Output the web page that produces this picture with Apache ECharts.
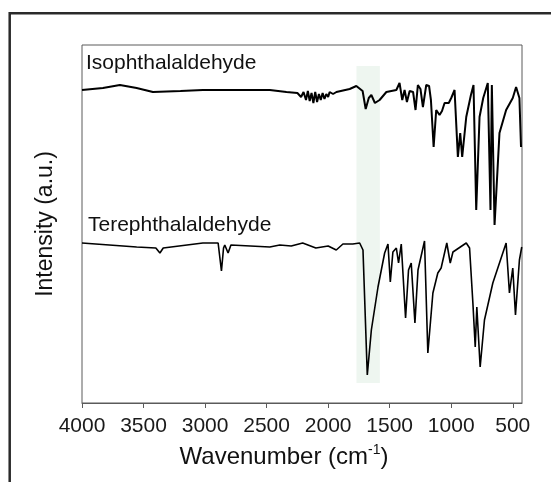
<!DOCTYPE html>
<html>
<head>
<meta charset="utf-8">
<script src="https://cdn.jsdelivr.net/npm/echarts@6.0.0/dist/echarts.min.js"></script>
<style>
html,body{margin:0;padding:0;background:#fff;}
#chart{width:551px;height:482px;}
</style>
</head>
<body>
<div id="chart"></div>
<script>
// Tick labels of the wavenumber axis
var xTicks = [4000, 3500, 3000, 2500, 2000, 1500, 1000, 500];

// Isophthalaldehyde spectrum (wavenumber, intensity a.u.)
var isoWn  = [4000,3830,3692,3556,3424,3200,3018,2700,2474,2339,2250,2220,2200,2180,2165,2150,2135,2120,2105,2090,2075,2060,2045,2030,2015,2000,1988,1960,1933,1825,1771,1720,1695,1670,1649,1620,1582,1527,1446,1420,1398,1379,1360,1338,1310,1290,1271,1250,1230,1203,1180,1165,1143,1122,1095,1075,1054,1020,1000,973,946,927,911,878,840,819,797,770,740,703,681,670,648,608,554,500,473,446,433];
var isoVal = [313, 315, 318, 315, 311, 312, 313, 313, 313, 311, 310, 306, 311, 303, 312, 302, 310, 300, 311, 301, 309, 303, 310, 304, 309, 306, 311, 309, 311, 314, 317, 312, 294, 305, 308, 300, 303, 311, 313, 320, 303, 313, 301, 312, 311, 293, 318, 314, 296, 318, 317, 303, 256, 293, 288, 292, 300, 300, 305, 313, 246, 270, 246, 286, 308, 318, 193, 286, 305, 320, 193, 318, 178, 270, 293, 305, 316, 305, 256];

// Terephthalaldehyde spectrum (wavenumber, intensity a.u.)
var tereWn  = [4000,3556,3400,3367,3340,3018,2894,2867,2850,2840,2813,2790,2474,2393,2300,2207,2100,2000,1988,1934,1880,1800,1744,1717,1682,1649,1595,1541,1514,1495,1474,1446,1428,1406,1371,1347,1325,1295,1270,1217,1190,1149,1109,1082,1036,1008,986,878,851,824,805,792,765,730,662,554,527,500,478,446,427];
var tereVal = [160, 156, 155, 150, 155, 160, 160, 132, 155, 158, 150, 158, 156, 158, 157, 160, 155, 157, 156, 153, 159, 159, 160, 153, 28, 73, 116, 150, 159, 121, 151, 155, 140, 159, 85, 133, 140, 80, 133, 162, 50, 110, 130, 135, 160, 140, 151, 160, 155, 100, 56, 96, 36, 83, 120, 160, 110, 135, 88, 143, 156];

// Highlighted carbonyl region (wavenumber range)
var bandWn = [1770, 1580];
var bandVal = [20, 337];

function pairs(xs, ys) { return xs.map(function (x, i) { return [x, ys[i]]; }); }

var chart = echarts.init(document.getElementById('chart'), null, {renderer: 'canvas'});
var FONT = 'Liberation Sans, Arial, sans-serif';

chart.setOption({
  animation: false,
  backgroundColor: '#ffffff',
  grid: {left: 82, right: 29, top: 45, bottom: 79, show: true, borderColor: '#5a5a5a', borderWidth: 1, backgroundColor: 'transparent'},
  xAxis: {
    type: 'value', inverse: true, min: 425, max: 4000,
    axisLine: {show: true, lineStyle: {color: '#5a5a5a', width: 1}},
    axisTick: {show: true, inside: false, length: 5, lineStyle: {color: '#5a5a5a'}, customValues: xTicks},
    axisLabel: {show: true, margin: 13, fontSize: 21, color: '#1a1a1a', fontFamily: FONT, customValues: xTicks,
      formatter: function (v) { return String(v); }},
    splitLine: {show: false}
  },
  yAxis: {
    type: 'value', min: 0, max: 358,
    axisLine: {show: false}, axisTick: {show: false}, axisLabel: {show: false}, splitLine: {show: false}
  },
  graphic: [
    {type: 'rect', shape: {x: 9.7, y: 13.3, width: 700, height: 700}, style: {fill: 'none', stroke: '#2a2a2a', lineWidth: 2.5}, silent: true, z: 0},
    {type: 'text', x: 86, y: 53, style: {text: 'Isophthalaldehyde', font: '21px ' + FONT, fill: '#111', verticalAlign: 'top'}, z: 10},
    {type: 'text', x: 88, y: 215, style: {text: 'Terephthalaldehyde', font: '21px ' + FONT, fill: '#111', verticalAlign: 'top'}, z: 10},
    {type: 'text', x: 46, y: 224, rotation: Math.PI / 2, style: {text: 'Intensity (a.u.)', font: '23px ' + FONT, fill: '#111', align: 'center', verticalAlign: 'middle'}, z: 10},
    {type: 'text', x: 284, y: 443, style: {
      text: '{n|Wavenumber (cm}{s|-1}{n|)}',
      rich: {n: {fontSize: 24, fontFamily: FONT, fill: '#111', verticalAlign: 'bottom', lineHeight: 26}, s: {fontSize: 14, fontFamily: FONT, fill: '#111', verticalAlign: 'top', lineHeight: 26}},
      align: 'center', verticalAlign: 'top'}, z: 10}
  ],
  series: [
    {
      type: 'line', data: [], z: 1,
      markArea: {silent: true, itemStyle: {color: '#eef6f0'},
        data: [[{xAxis: bandWn[0], yAxis: bandVal[0]}, {xAxis: bandWn[1], yAxis: bandVal[1]}]]}
    },
    {type: 'line', data: pairs(isoWn, isoVal), showSymbol: false, z: 3, lineStyle: {color: '#000', width: 2}},
    {type: 'line', data: pairs(tereWn, tereVal), showSymbol: false, z: 3, lineStyle: {color: '#000', width: 1.6}}
  ]
});
</script>
</body>
</html>
